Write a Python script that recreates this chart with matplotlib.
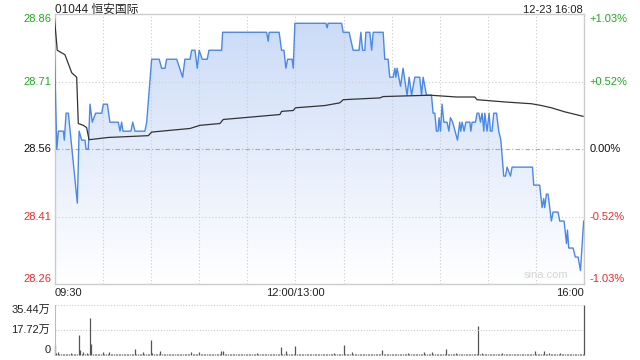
import numpy as np
import matplotlib.pyplot as plt
from matplotlib.patches import Polygon

plt.rcParams['font.family'] = ['Liberation Sans', 'Noto Sans CJK SC']

# ===== data (minutes since 09:30, lunch break removed: 0..330)
prev_close = 28.56

price_t = [0, 1.4, 2.4, 5.5, 6.1, 7.2, 8.6, 14.2, 15.3, 16.9, 19, 19.6, 21, 22.1, 23.5,
           25.6, 29.4, 30.4, 32.9, 34.5, 39.7, 40.8, 41.8, 42.6, 47.6, 48.7, 50.1, 56.3,
           57.4, 60.5, 65.2, 66.7, 68.8, 69.8, 76.1, 79.8, 81.2, 84.4, 85.4, 87.5, 88.9,
           90.1, 92, 95.1, 96.2, 104.1, 104.7, 132.1, 133.1, 133.7, 139.9, 141.4, 142.9,
           144.1, 145.2, 148, 148.7, 149.7,
           169, 169.8, 170.4, 178.8, 179.8, 183.5, 186, 189.7, 190.8, 191.9, 193.3, 193.9,
           196.4, 197.5, 198.5, 204.7, 205.7, 207.8, 208.8, 210.9, 212, 212.6, 213.4,
           215.5, 217.1, 219.6, 220.9, 222.4, 224.4, 227.5, 228.6, 229.6, 231.7, 234.8,
           235.8, 236.9, 237.9, 238.9, 239.5, 240.4, 241.4, 242.5, 244.5, 245.6, 246.6,
           248, 251, 252.4, 253, 253.9, 255.1, 256.2, 258.7, 259.3, 260.1, 262.2, 263.2,
           264.3, 265.3, 266.3, 267.4, 268, 269.4, 270.7, 271.5, 272.5, 273.6, 275.3,
           276.7, 278, 279.8, 280.9, 281.9, 284, 285, 297.7, 298.5, 302.2, 303.7, 304.7,
           305.3, 306.4, 307.4, 309.5, 310.5, 313.6, 314.7, 317.4, 318.9, 319.5, 320.3,
           323, 324.4, 326.1, 327.6, 329.6]
price_v = [28.78, 28.56, 28.60, 28.60, 28.58, 28.64, 28.64, 28.44, 28.60, 28.58, 28.58,
           28.56, 28.56, 28.66, 28.62, 28.64, 28.64, 28.66, 28.66, 28.62, 28.62, 28.60,
           28.62, 28.60, 28.60, 28.62, 28.60, 28.60, 28.62, 28.76, 28.76, 28.74, 28.74,
           28.76, 28.76, 28.72, 28.76, 28.76, 28.78, 28.78, 28.74, 28.78, 28.76, 28.76,
           28.78, 28.78, 28.82, 28.82, 28.80, 28.82, 28.82, 28.78, 28.78, 28.74, 28.76,
           28.76, 28.74, 28.84,
           28.84, 28.83, 28.84, 28.84, 28.82, 28.82, 28.78, 28.78, 28.82, 28.78, 28.78,
           28.82, 28.82, 28.78, 28.82, 28.82, 28.76, 28.76, 28.72, 28.72, 28.74, 28.72,
           28.74, 28.70, 28.74, 28.68, 28.72, 28.68, 28.72, 28.72, 28.68, 28.72, 28.68,
           28.68, 28.64, 28.64, 28.60, 28.60, 28.63, 28.60, 28.66, 28.62, 28.62, 28.60,
           28.63, 28.62, 28.58, 28.62, 28.60, 28.62, 28.60, 28.62, 28.62, 28.60, 28.62,
           28.62, 28.64, 28.64, 28.62, 28.64, 28.60, 28.64, 28.60, 28.64, 28.60, 28.60,
           28.64, 28.64, 28.60, 28.58, 28.50, 28.50, 28.52, 28.50, 28.52, 28.52, 28.48,
           28.48, 28.43, 28.45, 28.43, 28.46, 28.46, 28.40, 28.42, 28.42, 28.40, 28.40,
           28.35, 28.38, 28.34, 28.34, 28.32, 28.32, 28.29, 28.40]

avg_t = [0, 1.7, 6.5, 10.7, 13.8, 14.8, 17.9, 20, 21.5, 33.5, 58.4, 60.5, 84.4, 90.6,
         103, 105.1, 140.4, 141.4, 148.7, 150.1, 168.4, 177.7, 179.8, 202.6, 204.7,
         234, 250.4, 261.8, 263.2, 280.4, 297.1, 303.3, 309.5, 317.8, 329.2]
avg_v = [28.85, 28.78, 28.77, 28.73, 28.72, 28.617, 28.613, 28.608, 28.581, 28.586,
         28.590, 28.598, 28.606, 28.613, 28.617, 28.626, 28.637, 28.644, 28.646, 28.652,
         28.657, 28.663, 28.670, 28.674, 28.677, 28.680, 28.676, 28.676, 28.670, 28.665,
         28.661, 28.657, 28.652, 28.643, 28.633]

# volume per minute (万股)
vol = [7.1, 1.5, 2.0, 1.0, 0.8, 0.6, 0.5, 0.8, 0.6, 0.5, 1.2, 0.6, 0.5, 0.8, 0.7,
       14.2, 3.5, 0.8, 2.0, 1.0, 1.5, 0.8, 26.0, 7.8, 0.8, 0.6, 0.5, 0.7, 0.6, 0.8,
       2.0, 0.6, 0.5, 0.8, 2.0, 0.7, 0.6, 0.5, 0.6, 0.8, 0.5, 0.6, 0.7, 0.5, 0.6,
       0.8, 0.5, 0.6, 0.7, 0.8, 4.3, 0.6, 0.5, 0.7, 0.6, 1.8, 0.6, 0.5, 0.7, 1.0,
       10.6, 1.5, 0.8, 0.6, 0.7, 0.5, 3.0, 0.8, 0.6, 0.7, 0.5, 0.6, 0.5, 0.8, 0.6,
       0.5, 0.7, 0.6, 0.5, 0.6, 0.8, 0.5, 0.6, 0.7, 0.5, 2.0, 0.6, 0.5, 0.7, 0.6,
       2.0, 0.8, 0.6, 0.5, 0.7, 0.6, 0.5, 0.6, 0.7, 0.5, 0.6, 0.5, 0.8, 0.6, 2.8,
       3.0, 0.7, 0.6, 0.5, 0.6, 0.7, 0.5, 0.6, 0.8, 0.5, 0.6, 0.7, 0.5, 0.6, 0.5,
       0.6, 0.7, 0.5, 0.6, 0.8, 0.6, 1.5, 0.5, 0.6, 0.7, 0.5, 0.6, 0.5, 0.7, 0.6,
       0.5, 0.6, 0.8, 0.5, 0.6, 0.7, 5.9, 0.6, 0.5, 3.0, 0.7, 0.6, 0.5, 0.6, 0.8,
       6.6, 0.8, 0.6, 0.5, 0.7, 0.6, 0.5, 0.6, 0.7, 0.5, 0.6, 0.5, 0.8, 0.6, 0.5,
       0.6, 0.7, 0.5, 0.6, 0.5, 0.7, 0.6, 0.5, 0.6, 1.5, 0.6, 0.5, 0.7, 0.6, 0.5,
       7.1, 0.8, 0.6, 0.5, 0.7, 2.0, 0.6, 0.5, 0.6, 0.7, 0.5, 0.6, 0.5, 0.7, 0.6,
       0.5, 0.6, 0.8, 0.5, 0.6, 0.7, 0.5, 0.6, 0.8, 3.5, 0.7, 1.0, 0.6, 0.5, 0.6,
       0.7, 0.5, 0.6, 0.5, 0.7, 0.6, 0.5, 0.6, 0.8, 0.5, 1.5, 0.6, 0.7, 0.5, 0.6,
       0.5, 0.7, 0.6, 0.5, 0.6, 1.8, 0.6, 0.5, 0.7, 0.6, 2.0, 0.6, 0.5, 0.7, 0.6,
       0.5, 0.6, 0.8, 0.5, 4.3, 0.8, 0.6, 0.5, 0.7, 0.6, 1.2, 0.6, 0.5, 0.7, 0.6,
       0.5, 0.6, 0.7, 0.5, 0.6, 0.5, 0.7, 0.6, 0.5, 20.6, 0.8, 1.5, 0.6, 0.5, 0.7,
       0.6, 0.5, 0.6, 0.7, 0.5, 0.6, 0.5, 0.7, 0.6, 1.5, 0.6, 0.5, 0.7, 0.6, 0.5,
       0.6, 0.7, 0.5, 0.6, 0.5, 0.7, 0.6, 0.5, 0.6, 0.8, 0.5, 0.6, 0.7, 0.5, 3.0,
       0.6, 0.5, 0.7, 0.6, 0.8, 3.0, 0.7, 0.6, 1.5, 0.5, 0.8, 0.6, 0.5, 0.7, 0.6,
       1.5, 0.6, 0.5, 0.8, 0.6, 0.7, 0.5, 0.6, 0.8, 0.5, 0.6, 0.7, 0.5, 0.6, 0.8,
       35.44]

price_ticks = [28.86, 28.71, 28.56, 28.41, 28.26]
pct_labels = ['+1.03%', '+0.52%', '0.00%', '-0.52%', '-1.03%']
time_labels = ['09:30', '12:00/13:00', '16:00']
vol_ticks = [35.44, 17.72, 0]
vol_labels = ['35.44万', '17.72万', '0']

GREEN = '#22a822'
RED = '#ee2a2a'
GRID = '#cccccc'

fig = plt.figure(figsize=(6.4, 3.6), dpi=100)

# ===== price panel
ax = fig.add_axes([0.0852, 0.2111, 0.8278, 0.7492])
x0, x1 = 0, 330
y0, y1 = price_ticks[-1], price_ticks[0]

# gradient fill under the price line
grad = np.linspace(0, 1, 256).reshape(-1, 1, 1)
top_c = np.array([0.79, 0.855, 0.97])
img = top_c + (1.0 - top_c) * grad
im = ax.imshow(img, extent=[x0, x1, y0, y1], aspect='auto', origin='upper', zorder=1)
verts = list(zip(price_t, price_v)) + [(price_t[-1], y0), (price_t[0], y0)]
poly = Polygon(verts, closed=True, facecolor='none', edgecolor='none')
ax.add_patch(poly)
im.set_clip_path(poly)

ax.plot(price_t, price_v, color='#4a88e8', lw=1.0, zorder=3)
ax.plot(avg_t, avg_v, color='#333333', lw=0.9, zorder=4)

for t in range(30, 330, 30):
    ax.axvline(t, color=GRID, lw=0.8, ls=(0, (1, 2)), zorder=2)
for p in [28.71, 28.41]:
    ax.axhline(p, color=GRID, lw=0.8, ls=(0, (1, 2)), zorder=2)
ax.axhline(prev_close, color='#aaaaaa', lw=0.8, ls=(0, (4, 2, 1, 2)), zorder=2)

ax.set_xlim(x0, x1)
ax.set_ylim(y0, y1)
ax.set_xticks([])
ax.set_yticks([])
for s in ax.spines.values():
    s.set_color('#cccccc')
    s.set_linewidth(1)

# y labels both sides
for i, (p, lab) in enumerate(zip(price_ticks, pct_labels)):
    c = GREEN if p > prev_close else (RED if p < prev_close else '#111111')
    va = 'top' if i == 0 else ('bottom' if i == len(price_ticks) - 1 else 'center')
    ax.text(-0.006, p, f'{p:.2f}', transform=ax.get_yaxis_transform(),
            ha='right', va=va, fontsize=8, color=c)
    ax.text(1.01, p, lab, transform=ax.get_yaxis_transform(),
            ha='left', va=va, fontsize=8, color=c)

# x labels
ax.text(0, -0.015, time_labels[0], transform=ax.get_xaxis_transform(),
        ha='left', va='top', fontsize=8, color='#222222')
ax.text(150, -0.015, time_labels[1], transform=ax.get_xaxis_transform(),
        ha='center', va='top', fontsize=8, color='#222222')
ax.text(330, -0.015, time_labels[2], transform=ax.get_xaxis_transform(),
        ha='right', va='top', fontsize=8, color='#222222')

ax.text(0.97, 0.015, 'sina.com', transform=ax.transAxes, ha='right', va='bottom',
        fontsize=8, color='#d4d4d4', zorder=5)

fig.text(55 / 640, 1 - 10 / 360, '01044 恒安国际', ha='left', va='center',
         fontsize=8.5, color='#222222')
fig.text(583 / 640, 1 - 10 / 360, '12-23 16:08', ha='right', va='center',
         fontsize=8, color='#222222')

# ===== volume panel
vax = fig.add_axes([0.0852, 0.0139, 0.8278, 0.1389])
vax.vlines(np.arange(len(vol)), 0, vol, color='#555555', lw=0.9, clip_on=False)
for v in vol_ticks[:2]:
    vax.axhline(v, color=GRID, lw=0.8, ls=(0, (1, 1.5)))
vax.set_xlim(0, 330)
vax.set_ylim(0, vol_ticks[0])
vax.set_xticks([])
vax.set_yticks([])
for k in ['top', 'right', 'bottom']:
    vax.spines[k].set_visible(False)
vax.spines['left'].set_color('#bbbbbb')
for v, lab, va in zip(vol_ticks, vol_labels, ['top', 'center', 'bottom']):
    vax.text(-0.008, v, lab, transform=vax.get_yaxis_transform(),
             ha='right', va=va, fontsize=8, color='#222222')

fig.savefig('out.png', dpi=100)
